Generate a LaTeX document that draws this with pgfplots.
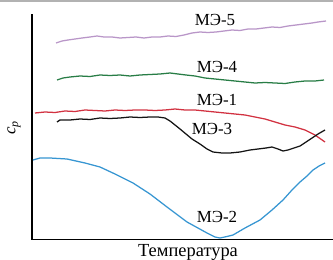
\documentclass[border=0pt]{standalone}
\usepackage{fontspec}
\setmainfont{Liberation Serif}
\usepackage{pgfplots}
\pgfplotsset{compat=1.18}
\definecolor{c5}{RGB}{185,150,200}
\definecolor{c4}{RGB}{40,125,70}
\definecolor{c1}{RGB}{210,50,65}
\definecolor{c3}{RGB}{20,20,20}
\definecolor{c2}{RGB}{55,150,210}
\begin{document}
\begin{tikzpicture}[x=1bp,y=1bp]
\useasboundingbox (0,0) rectangle (333,260);
\fill[white] (0,0) rectangle (333,260);
\draw[gray!60, line width=1.2bp] (0,259) -- (333,259);
\begin{axis}[
  at={(32bp,20.5bp)}, anchor=origin,
  scale only axis, width=301bp, height=225.5bp,
  xmin=32, xmax=333, ymin=20.5, ymax=246,
  axis lines=left, axis line style={-, line width=1.3bp, black},
  ticks=none, clip=false,
  every axis plot/.append style={line width=1.25bp, no markers},
]
% MЭ-5
\addplot[c5] coordinates {(56,217) (62,219) (68,220) (75,221) (82,222) (90,223) (97,224) (104,223) (112,223) (120,222) (128,222.5) (136,223) (144,222) (152,223) (160,223) (168,224) (176,223.5) (184,225) (192,227) (200,228) (208,227.5) (216,228) (224,229) (232,230) (240,229.5) (248,231) (256,231) (264,232) (272,233) (280,232.5) (288,234) (296,235) (304,236) (312,237) (318,238) (326,239)};
% MЭ-4
\addplot[c4] coordinates {(57,180) (63,182) (70,183) (80,184) (90,183.5) (100,185) (110,184.5) (120,185) (130,184) (140,185) (150,185.5) (160,186) (170,187) (178,186) (186,185) (195,184) (205,182) (215,181) (225,180) (235,179) (245,178) (255,177) (265,177.5) (275,177) (285,176.5) (295,178) (305,179) (315,179) (324,180)};
% MЭ-1
\addplot[c1] coordinates {(35,147) (45,148) (55,147.5) (65,149) (75,148.5) (85,150) (95,149.5) (105,149) (115,150) (125,149.5) (135,150) (145,150) (155,149.5) (165,150) (175,151) (185,150) (195,150) (205,149) (215,148) (225,147) (235,146) (245,145) (255,143) (265,141) (275,138) (285,135) (295,133) (305,130) (315,125) (325,118)};
% MЭ-3
\addplot[c3] coordinates {(57,138) (60,140) (70,140) (80,141) (90,140.5) (100,142) (110,141.5) (120,142) (130,143) (140,142.5) (150,143) (158,143) (165,142) (170,139) (175,135) (180,131) (186,126) (192,121) (200,116) (207,111) (213,108) (222,107) (230,107) (240,108) (250,110) (258,111) (266,112) (272,113) (278,111) (283,109) (288,110) (294,112) (300,114) (306,118) (312,122) (318,126) (325,130)};
% MЭ-2
\addplot[c2] coordinates {(33,100) (40,102) (50,102) (67,101) (85,97) (100,93) (115,86) (133,77) (150,66) (167,53) (187,38) (207,27) (215,23) (220,22) (227,23.5) (233,25) (245,32) (260,40) (272,50) (283,60) (292,70) (300,78) (307,84) (313,90) (319,94) (325,97)};
\node[font=\fontsize{17}{19}\selectfont] at (axis cs:215,240) {МЭ-5};
\node[font=\fontsize{17}{19}\selectfont] at (axis cs:217,193) {МЭ-4};
\node[font=\fontsize{17}{19}\selectfont] at (axis cs:217,160) {МЭ-1};
\node[font=\fontsize{17}{19}\selectfont] at (axis cs:212,131) {МЭ-3};
\node[font=\fontsize{17}{19}\selectfont] at (axis cs:217,43) {МЭ-2};
\node[font=\fontsize{18.5}{20}\selectfont] at (axis cs:188,8) {Температура};
\node[font=\fontsize{17}{19}\selectfont, rotate=90] at (axis cs:14,132) {\textit{c}\textsubscript{\textit{p}}};
\end{axis}
\end{tikzpicture}
\end{document}
